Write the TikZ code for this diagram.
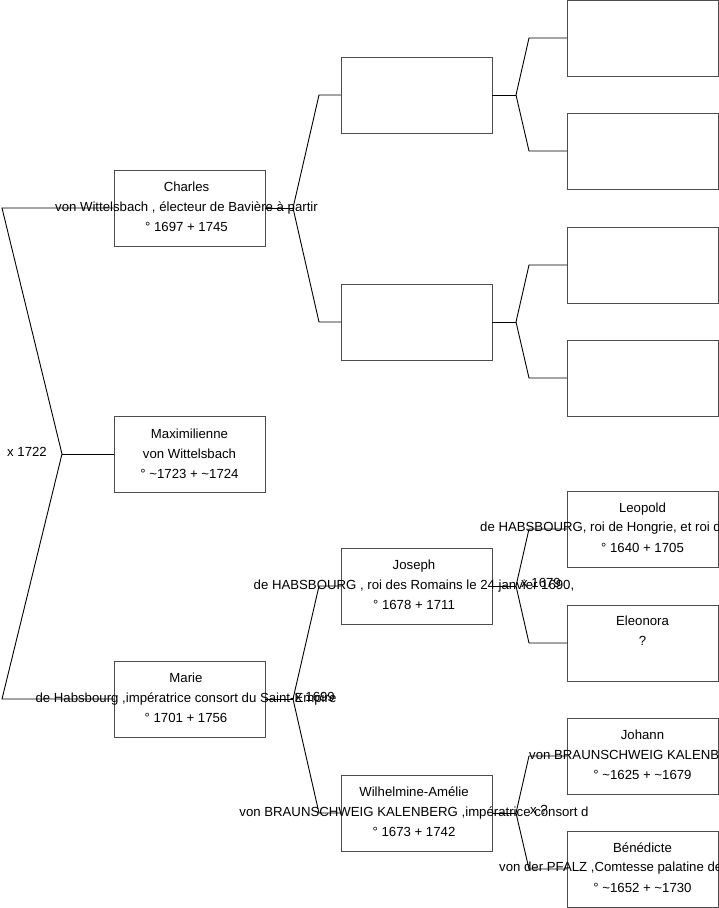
\documentclass[tikz,border=0pt]{standalone}
\usepackage{fontspec}
\setmainfont{Liberation Sans}
\begin{document}
\begin{tikzpicture}[x=1pt,y=-1pt,
  pbox/.style={draw=black!70,line width=1pt,fill=white,minimum width=151pt,minimum height=76pt,inner sep=0pt,outer sep=0pt},
  ptext/.style={align=center,text=black,font=\fontsize{13.2}{20}\selectfont,inner sep=0pt},
  pline/.style={text=black,font=\fontsize{13.2}{20}\selectfont,inner sep=0pt},
  conn/.style={draw=black,line width=0.9pt},
  mlabel/.style={text=black,font=\fontsize{13.2}{20}\selectfont,inner sep=0pt}]
\useasboundingbox (0,0) rectangle (719,908);
% boxes
\node[pbox] (charles) at (189.5,208) {};
\node[pbox] (maxi) at (189.5,454) {};
\node[pbox] (marie) at (189.5,699) {};
\node[pbox] (a) at (416.5,95) {};
\node[pbox] (b) at (416.5,322) {};
\node[pbox] (joseph) at (416.5,586) {};
\node[pbox] (wilh) at (416.5,813) {};
\node[pbox] (a1) at (642.5,38) {};
\node[pbox] (a2) at (642.5,151) {};
\node[pbox] (b1) at (642.5,265) {};
\node[pbox] (b2) at (642.5,378) {};
\node[pbox] (leopold) at (642.5,529) {};
\node[pbox] (eleonora) at (642.5,643) {};
\node[pbox] (johann) at (642.5,756) {};
\node[pbox] (bened) at (642.5,869) {};
% connectors
\coordinate (m0) at (62,454);
\draw[conn] (maxi.west) -- (m0);
\draw[conn] (m0) -- (2,208) -- (charles.west);
\draw[conn] (m0) -- (2,699) -- (marie.west);
% Charles fork
\draw[conn] (charles.east) -- ++(28,0) coordinate (f1);
\draw[conn] (f1) -- ([xshift=-22pt]a.west) -- (a.west);
\draw[conn] (f1) -- ([xshift=-22pt]b.west) -- (b.west);
% Marie fork
\draw[conn] (marie.east) -- ++(28,0) coordinate (f2);
\draw[conn] (f2) -- ([xshift=-22pt]joseph.west) -- (joseph.west);
\draw[conn] (f2) -- ([xshift=-22pt]wilh.west) -- (wilh.west);
% col2 forks
\draw[conn] (a.east) -- ++(24,0) coordinate (f3);
\draw[conn] (f3) -- ([xshift=-38pt]a1.west) -- (a1.west);
\draw[conn] (f3) -- ([xshift=-38pt]a2.west) -- (a2.west);
\draw[conn] (b.east) -- ++(24,0) coordinate (f4);
\draw[conn] (f4) -- ([xshift=-38pt]b1.west) -- (b1.west);
\draw[conn] (f4) -- ([xshift=-38pt]b2.west) -- (b2.west);
\draw[conn] (joseph.east) -- ++(24,0) coordinate (f5);
\draw[conn] (f5) -- ([xshift=-38pt]leopold.west) -- (leopold.west);
\draw[conn] (f5) -- ([xshift=-38pt]eleonora.west) -- (eleonora.west);
\draw[conn] (wilh.east) -- ++(24,0) coordinate (f6);
\draw[conn] (f6) -- ([xshift=-38pt]johann.west) -- (johann.west);
\draw[conn] (f6) -- ([xshift=-38pt]bened.west) -- (bened.west);
% texts
\node[ptext] (tcharles) at (186.5,207) {Charles\\von Wittelsbach , électeur de Bavière à partir\\° 1697 + 1745};
\node[ptext] (tmaxi) at (189.5,454) {Maximilienne\\von Wittelsbach\\° \textasciitilde1723 + \textasciitilde1724};
\node[ptext] (tmarie) at (186,698) {Marie\\de Habsbourg ,impératrice consort du Saint-Empire\\° 1701 + 1756};
\node[ptext] (tjoseph) at (414,585) {Joseph\\de HABSBOURG , roi des Romains le 24 janvier 1690,\\° 1678 + 1711};
\node[ptext] (twilh) at (414,812) {Wilhelmine-Amélie\\von BRAUNSCHWEIG KALENBERG ,impératrice consort d\\° 1673 + 1742};
\node[ptext] (tleo) at (642.5,528) {Leopold\\[20pt]° 1640 + 1705};
\node[pline,anchor=west] (tleo2) at (480,528) {de HABSBOURG, roi de Hongrie, et roi d};
\node[ptext] (tele) at (642.5,631) {Eleonora\\?};
\node[ptext] (tjoh) at (642.5,755) {Johann\\[20pt]° \textasciitilde1625 + \textasciitilde1679};
\node[pline,anchor=west] (tjoh2) at (529,755) {von BRAUNSCHWEIG KALENB};
\node[ptext] (tben) at (642.5,868) {Bénédicte\\[20pt]° \textasciitilde1652 + \textasciitilde1730};
\node[pline,anchor=west] (tben2) at (499,868) {von der PFALZ ,Comtesse palatine de};
% marriage labels
\node[mlabel,anchor=west] (x1) at (7,452) {x 1722};
\node[mlabel,anchor=west] (x2) at (295,697) {x 1699};
\node[mlabel,anchor=west] (x3) at (521,583) {x 1679};
\node[mlabel,anchor=west] (x4) at (530,810) {x ?};
\end{tikzpicture}
\end{document}
